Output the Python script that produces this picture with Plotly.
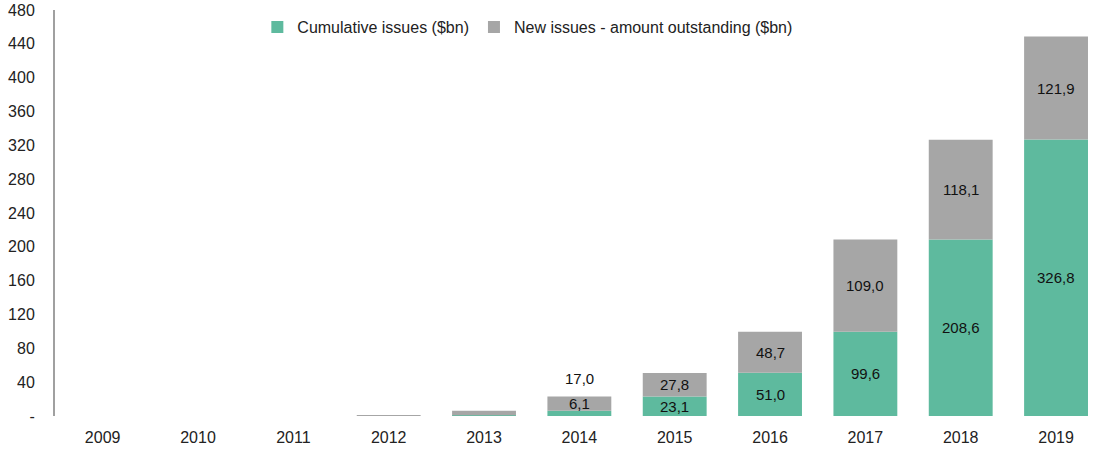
import plotly.graph_objects as go

years = ["2009", "2010", "2011", "2012", "2013", "2014", "2015", "2016", "2017", "2018", "2019"]
cumulative = [0.0, 0.0, 0.0, 0.0, 1.0, 6.1, 23.1, 51.0, 99.6, 208.6, 326.8]
new_issues = [0.0, 0.0, 0.0, 1.0, 5.1, 17.0, 27.8, 48.7, 109.0, 118.1, 121.9]
yticks = [0, 40, 80, 120, 160, 200, 240, 280, 320, 360, 400, 440, 480]
yticklabels = ["-"] + [str(v) for v in yticks[1:]]

GREEN = "#5EBA9E"
GREY = "#A6A6A6"
FONT = "Liberation Sans, Arial, sans-serif"

fig = go.Figure()
fig.add_trace(go.Bar(x=years, y=cumulative, name="Cumulative issues ($bn)",
                     marker=dict(color=GREEN, line=dict(width=0))))
fig.add_trace(go.Bar(x=years, y=new_issues, name="New issues - amount outstanding ($bn)",
                     base=cumulative, marker=dict(color=GREY, line=dict(width=0))))

def fmt(v):
    return f"{v:.1f}".replace(".", ",")

annotations = []
for i, yr in enumerate(years):
    c, n = cumulative[i], new_issues[i]
    if int(yr) < 2014:
        continue
    sc, sn = 0, 0
    if yr == "2014":
        sc, sn = 10, 25
    annotations.append(dict(x=i, y=c / 2, xref="x", yref="y", text=fmt(c), showarrow=False,
                            yshift=sc, font=dict(family=FONT, size=15, color="#111111")))
    annotations.append(dict(x=i, y=c + n / 2, xref="x", yref="y", text=fmt(n), showarrow=False,
                            yshift=sn, font=dict(family=FONT, size=15, color="#111111")))

fig.update_layout(
    barmode="overlay",
    bargap=0.33,
    width=1098, height=467,
    margin=dict(l=55, r=0, t=10, b=51),
    plot_bgcolor="white", paper_bgcolor="white",
    font=dict(family=FONT, size=16, color="#222222"),
    showlegend=True,
    legend=dict(orientation="h", x=0.194, y=1.0, xanchor="left", yanchor="top",
                bgcolor="rgba(0,0,0,0)", font=dict(size=16, color="#222222"),
                traceorder="normal"),
    annotations=annotations,
    xaxis=dict(type="category", range=[-0.5, 10.44], showline=False, showgrid=False,
               zeroline=False, ticks="", ticklabelstandoff=10, automargin=False,
               tickfont=dict(size=16, color="#222222")),
    yaxis=dict(range=[0, 480], tickvals=yticks, ticktext=yticklabels,
               showline=True, linecolor="#A0A0A0", linewidth=2, showgrid=False,
               zeroline=False, ticks="", ticklabelstandoff=15, automargin=False,
               tickfont=dict(size=16, color="#222222")),
)

fig.write_html("out.html", config={"displayModeBar": False},
               post_script="document.body.style.margin='0';")
